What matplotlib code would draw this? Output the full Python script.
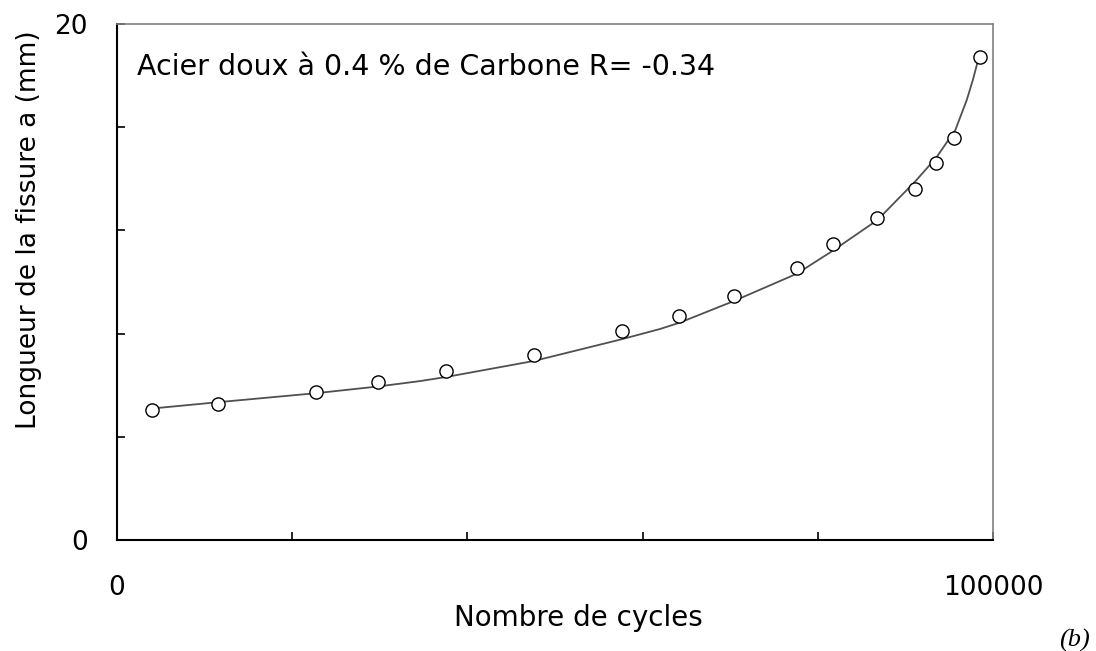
import matplotlib.pyplot as plt

# measured crack length vs number of cycles
cycles = [4000, 11500, 22700, 29800, 37600, 47600, 57600, 64200, 70400,
          77600, 81700, 86800, 91100, 93500, 95500, 98500]
crack = [5.04, 5.27, 5.74, 6.12, 6.55, 7.17, 8.10, 8.68, 9.46,
         10.54, 11.47, 12.48, 13.60, 14.61, 15.58, 18.72]

# fitted growth curve
fit_cycles = [4100, 11500, 22700, 29800, 34600, 37600, 47600, 57600, 62000,
              64200, 70400, 77600, 81700, 86800, 91100, 93500, 95700, 97000,
              97700, 98300]
fit_crack = [5.10, 5.34, 5.69, 5.95, 6.16, 6.32, 6.94, 7.78, 8.18,
             8.42, 9.26, 10.32, 11.21, 12.40, 13.89, 14.81, 15.89, 17.05,
             17.83, 18.60]

fig = plt.figure(figsize=(10.96, 6.51), dpi=100)
ax = fig.add_axes([117 / 1096, 111 / 651, 876 / 1096, 516 / 651])

ax.plot(fit_cycles, fit_crack, color='#505050', lw=1.3, zorder=2)
ax.plot(cycles, crack, 'o', ms=9.5, mfc='white', mec='black', mew=1.0, zorder=3)

ax.set_xlim(0, 100000)
ax.set_ylim(0, 20)
ax.set_xticks([0, 20000, 40000, 60000, 80000, 100000])
ax.set_xticklabels(['0', '', '', '', '', '100000'])
ax.set_yticks([0, 4, 8, 12, 16, 20])
ax.set_yticklabels(['0', '', '', '', '', '20'])
ax.tick_params(axis='both', direction='in', length=6, width=1.2,
               labelsize=19, colors='black')
ax.tick_params(axis='x', pad=25)
ax.tick_params(axis='y', pad=21)

for side in ['left', 'bottom']:
    ax.spines[side].set_color('black')
    ax.spines[side].set_linewidth(1.5)
for side in ['top', 'right']:
    ax.spines[side].set_color('#808080')
    ax.spines[side].set_linewidth(1.2)

fig.text(137 / 1096, 1 - 75 / 651, 'Acier doux à 0.4 % de Carbone R= -0.34',
         fontsize=20.5, ha='left', va='baseline')
fig.text(578 / 1096, 1 - 618 / 651, 'Nombre de cycles',
         fontsize=20, ha='center', va='center')
fig.text(29 / 1096, 1 - 230 / 651, 'Longueur de la fissure a (mm)',
         fontsize=19, ha='center', va='center', rotation=90)
fig.text(1074 / 1096, 1 - 640 / 651, '(b)', fontsize=19, style='italic',
         family='Liberation Serif', ha='center', va='center')

fig.savefig('out.png', dpi=100)
